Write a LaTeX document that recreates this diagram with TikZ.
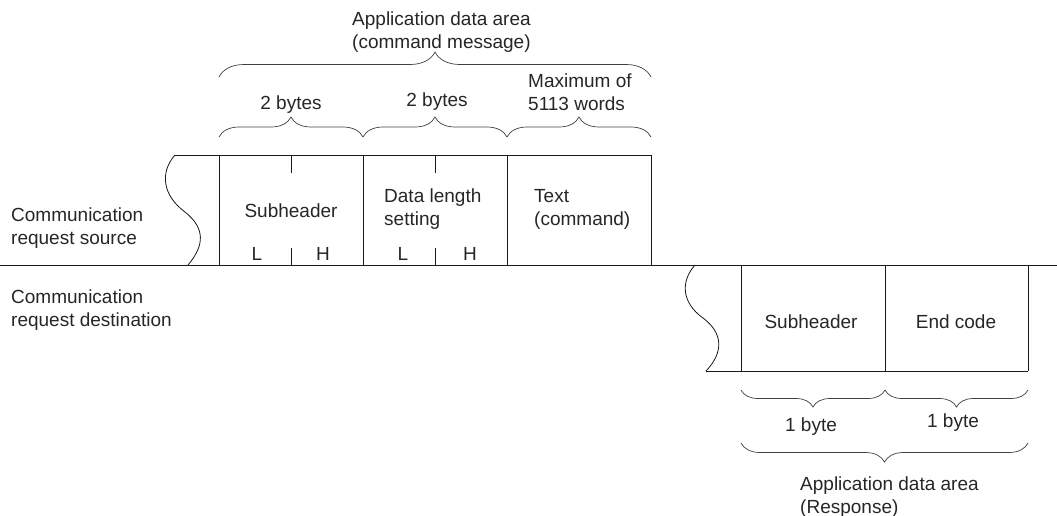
\documentclass[tikz,border=0pt]{standalone}
\usepackage{fontspec}
\setmainfont{Liberation Sans}
\usetikzlibrary{positioning, decorations.pathreplacing}

\begin{document}
\begin{tikzpicture}[
  x=1pt, y=-1pt,
  font=\fontsize{19}{22.5}\selectfont,
  frame/.style={draw=black!90, line width=0.8pt},
  lbl/.style={align=left, anchor=base west, inner sep=0pt, text=black!85},
  ctr/.style={anchor=base, inner sep=0pt, text=black!85},
  brc/.style={draw=black!75, line width=0.7pt, decorate,
              decoration={brace, amplitude=#1}},
  brc/.default=19
]
\useasboundingbox (0,0) rectangle (1057,515);

% request source frame
\draw[frame] (175,155) -- (651,155);
\draw[frame] (0,265) -- (1057,265);
\draw[frame] (175,155) .. controls (160,172) and (162,195) .. (185,212)
                       .. controls (205,228) and (205,245) .. (188,265);
\foreach \x in {219,363,507,651}
  \draw[frame] (\x,155) -- (\x,265);
\foreach \x in {291,435} {
  \draw[frame] (\x,155) -- (\x,173);
  \draw[frame] (\x,248) -- (\x,265);
}

% request destination frame
\draw[frame] (695,265) .. controls (680,282) and (682,303) .. (703,318)
                       .. controls (723,333) and (724,352) .. (706,371);
\draw[frame] (706,371) -- (1028,371);
\foreach \x in {741,885,1028}
  \draw[frame] (\x,265) -- (\x,371);

% braces
\draw[brc=25] (219,77) -- (651,77);
\draw[brc=20] (219,137) -- (363,137);
\draw[brc=20] (363,137) -- (507,137);
\draw[brc=20] (507,137) -- (651,137);
\draw[brc=17] (885,390) -- (741,390);
\draw[brc=17] (1028,390) -- (885,390);
\draw[brc] (1028,443) -- (741,443);

% texts (base = last line)
\node[lbl] (cmdarea) at (352,48) {Application data area\\(command message)};
\node[ctr] (sz1) at (291,109) {2 bytes};
\node[ctr] (sz2) at (437,106) {2 bytes};
\node[lbl] (sz3) at (528,110) {Maximum of\\5113 words};

\node[lbl] (src) at (11,244) {Communication\\request source};
\node[lbl] (dst) at (11,326) {Communication\\request destination};

\node[ctr] (subh) at (291,217) {Subheader};
\node[lbl] (dlen) at (384,225) {Data length\\setting};
\node[lbl] (txt) at (534,225) {Text\\(command)};
\node[ctr] (sl) at (257,260) {L};
\node[ctr] (sh) at (323,260) {H};
\node[ctr] (dl) at (403,260) {L};
\node[ctr] (dh) at (470,260) {H};

\node[ctr] (rsubh) at (811,328) {Subheader};
\node[ctr] (rend) at (956,328) {End code};
\node[ctr] (rb1) at (811,431) {1 byte};
\node[ctr] (rb2) at (953,427) {1 byte};
\node[lbl] (resarea) at (800,513) {Application data area\\(Response)};
\end{tikzpicture}
\end{document}
